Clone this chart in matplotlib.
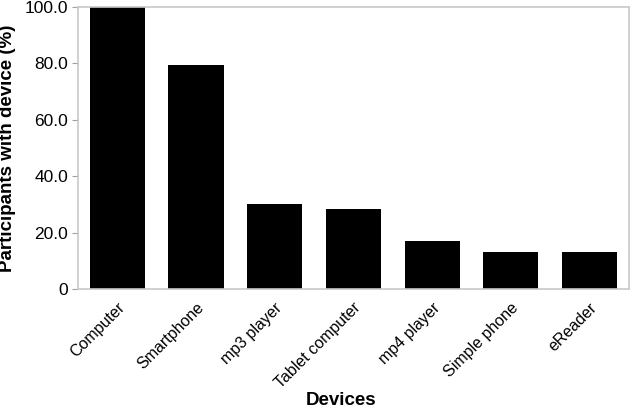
import matplotlib.pyplot as plt
import numpy as np

devices = ["Computer", "Smartphone", "mp3 player", "Tablet computer",
           "mp4 player", "Simple phone", "eReader"]
percent = [100.0, 79.3, 30.1, 28.4, 16.9, 13.1, 13.1]
yticks = [0, 20, 40, 60, 80, 100]
ytick_labels = ["0", "20.0", "40.0", "60.0", "80.0", "100.0"]

plt.rcParams['font.family'] = ['Liberation Sans', 'DejaVu Sans']

fig = plt.figure(figsize=(6.32, 4.08), dpi=100)
ax = fig.add_axes([0.1234, 0.2917, 0.8716, 0.6911])

x = np.arange(len(devices))
ax.bar(x, percent, width=0.7, color="black")

ax.set_xlim(-0.5, len(devices) - 0.5)
ax.set_ylim(0, 100)
ax.set_yticks(yticks)
ax.set_yticklabels(ytick_labels, fontsize=12.5)
ax.set_xticks(x)
ax.set_xticklabels(devices, fontsize=11.5, rotation=45, ha="right",
                   rotation_mode="anchor")

for s in ax.spines.values():
    s.set_color("#c8c8c8")
    s.set_linewidth(1.2)
ax.tick_params(axis="y", length=4, color="#a0a0a0", pad=3)
ax.tick_params(axis="x", length=0, pad=8)

ax.set_xlabel("Devices", fontsize=13.5, fontweight="bold", va="top")
ax.xaxis.set_label_coords(0.478, -0.366)
ax.set_ylabel("Participants with device (%)", fontsize=13.5, fontweight="bold", labelpad=6)

fig.savefig("out.png", dpi=100)
